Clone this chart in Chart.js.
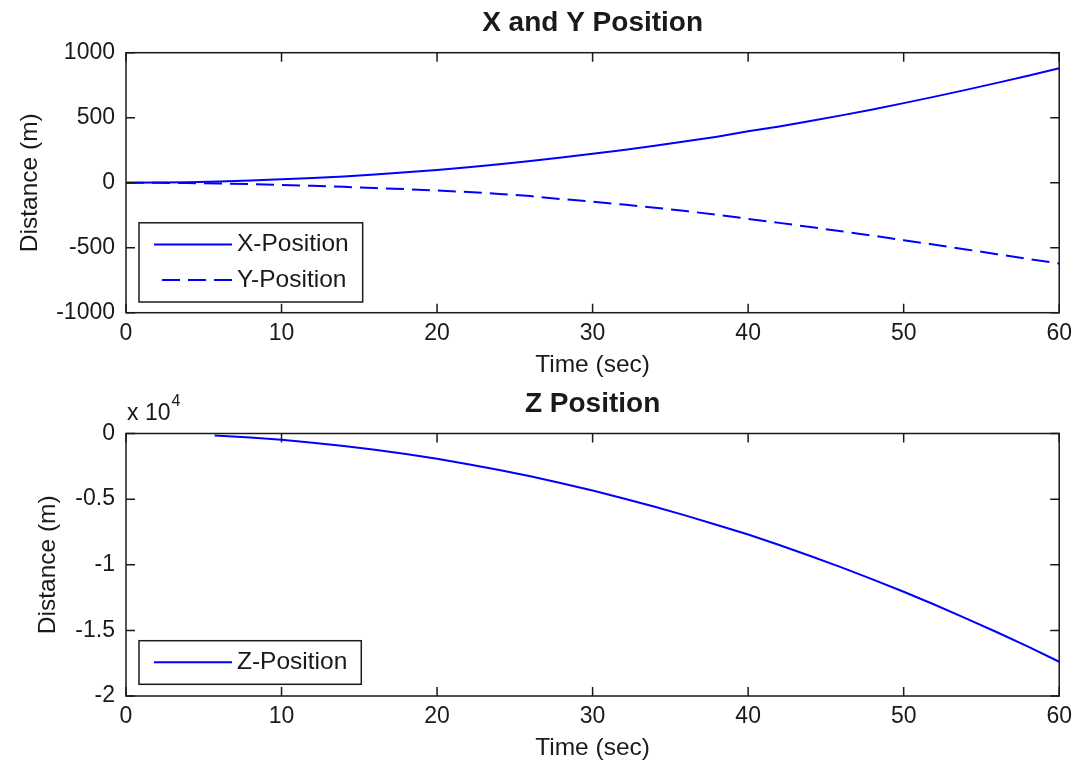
<!DOCTYPE html>
<html>
<head>
<meta charset="utf-8">
<script src="https://cdn.jsdelivr.net/npm/chart.js@4.4.0/dist/chart.umd.min.js"></script>
<style>
  html, body { margin: 0; padding: 0; background: #fff; }
  #wrap { position: relative; width: 1079px; height: 765px; }
  .pane { position: absolute; left: 0; width: 1079px; }
  #top { top: 0; height: 380px; }
  #bottom { top: 380px; height: 385px; }
</style>
</head>
<body>
<div id="wrap">
  <div class="pane" id="top"><canvas id="xyChart"></canvas></div>
  <div class="pane" id="bottom"><canvas id="zChart"></canvas></div>
</div>
<script>
// values
const times = [0, 2, 4, 6, 8, 10, 12, 14, 16, 18, 20, 22, 24, 26, 28, 30,
               32, 34, 36, 38, 40, 42, 44, 46, 48, 50, 52, 54, 56, 58, 60];
const xPos = [0, 1, 4, 9, 16, 26, 36, 48, 63, 80, 98, 119, 142, 167, 193, 222,
              252, 284, 318, 354, 395, 432, 474, 518, 563, 612, 662, 714, 768, 823, 880];
const yPos = [0, -1, -3, -6, -11, -17, -24, -32, -41, -50, -60, -72, -86, -103, -126, -146,
              -168, -192, -218, -247, -278, -309, -341, -374, -407, -442, -477, -513, -550, -586, -621];
const zTimes = [5.7, 8, 10, 12, 14, 16, 18, 20, 22, 24, 26, 28, 30, 32, 34,
                36, 38, 40, 42, 44, 46, 48, 50, 52, 54, 56, 58, 60];
const zPos = [-157, -309, -483, -696, -947, -1236, -1565, -1932, -2337, -2782, -3265, -3787, -4347, -4946, -5583,
              -6260, -6975, -7700, -8500, -9330, -10200, -11110, -12060, -13050, -14080, -15140, -16240, -17390];

const timeTicks = [0, 10, 20, 30, 40, 50, 60];
const xyTicks = [-1000, -500, 0, 500, 1000];
const zTicks = [-20000, -15000, -10000, -5000, 0];

const FONT = '"Liberation Sans", Arial, sans-serif';
const INK = '#1a1a1a';
const BLUE = '#0000ff';
const LABEL_SIZE = 24.5;

function pairs(ts, vs) {
  return ts.map((t, i) => ({ x: t, y: vs[i] }));
}

// matlab style box with inward ticks on all four sides
const matlabBox = {
  id: 'matlabBox',
  afterDatasetsDraw(chart) {
    const { ctx, chartArea: a, scales } = chart;
    const len = 9;
    ctx.save();
    ctx.strokeStyle = INK;
    ctx.lineWidth = 1.5;
    ctx.beginPath();
    scales.x.ticks.forEach(t => {
      const px = scales.x.getPixelForValue(t.value);
      ctx.moveTo(px, a.bottom); ctx.lineTo(px, a.bottom - len);
      ctx.moveTo(px, a.top); ctx.lineTo(px, a.top + len);
    });
    scales.y.ticks.forEach(t => {
      const py = scales.y.getPixelForValue(t.value);
      ctx.moveTo(a.left, py); ctx.lineTo(a.left + len, py);
      ctx.moveTo(a.right, py); ctx.lineTo(a.right - len, py);
    });
    ctx.stroke();
    ctx.strokeRect(a.left, a.top, a.right - a.left, a.bottom - a.top);
    ctx.restore();
  }
};

// legend drawn inside the axes, lower left, like matlab
const boxLegend = {
  id: 'boxLegend',
  afterDraw(chart, args, opts) {
    const { ctx, chartArea: a } = chart;
    const sets = chart.data.datasets;
    ctx.save();
    ctx.font = LABEL_SIZE + 'px ' + FONT;
    const textW = Math.max(...sets.map(d => ctx.measureText(d.label).width));
    const rowH = 35.6;
    const w = 98 + textW + 14;
    const h = 43.6 + (sets.length - 1) * rowH;
    const x0 = a.left + 13;
    const y0 = a.bottom - opts.bottomGap - h;
    ctx.fillStyle = '#fff';
    ctx.fillRect(x0, y0, w, h);
    ctx.strokeStyle = INK;
    ctx.lineWidth = 1.5;
    ctx.strokeRect(x0, y0, w, h);
    sets.forEach((d, i) => {
      const cy = y0 + 21.6 + i * rowH;
      ctx.strokeStyle = d.borderColor;
      ctx.lineWidth = d.borderWidth;
      ctx.setLineDash(d.borderDash || []);
      ctx.beginPath();
      ctx.moveTo(x0 + 93, cy);
      ctx.lineTo(x0 + (d.borderDash ? 22.5 : 15), cy);
      ctx.stroke();
      ctx.setLineDash([]);
      ctx.fillStyle = INK;
      ctx.textBaseline = 'middle';
      ctx.textAlign = 'left';
      ctx.fillText(d.label, x0 + 98, cy);
    });
    ctx.restore();
  }
};

// "x 10^4" exponent label over the z axis
const expLabel = {
  id: 'expLabel',
  afterDraw(chart) {
    const { ctx, chartArea: a } = chart;
    ctx.save();
    ctx.fillStyle = INK;
    ctx.textAlign = 'left';
    ctx.textBaseline = 'middle';
    ctx.font = '23px ' + FONT;
    ctx.fillText('x 10', a.left + 1, a.top - 20);
    const w = ctx.measureText('x 10').width;
    ctx.font = '16px ' + FONT;
    ctx.fillText('4', a.left + 2 + w, a.top - 32);
    ctx.restore();
  }
};

function makeOptions(cfg) {
  return {
    responsive: true,
    maintainAspectRatio: false,
    animation: false,
    layout: { padding: { left: 0, right: 18.5, top: 0, bottom: 0 } },
    elements: { point: { radius: 0 }, line: { tension: 0 } },
    plugins: {
      legend: { display: false },
      tooltip: { enabled: false },
      title: {
        display: true,
        fullSize: false,
        text: cfg.title,
        color: INK,
        font: { family: FONT, size: 28, weight: 'bold' },
        padding: { top: cfg.titleTop, bottom: cfg.titleBottom }
      },
      boxLegend: { bottomGap: cfg.legendGap }
    },
    scales: {
      x: {
        type: 'linear',
        min: 0, max: 60,
        afterBuildTicks: s => { s.ticks = timeTicks.map(v => ({ value: v })); },
        afterFit: s => { s.height = cfg.xHeight; },
        grid: { display: false, drawTicks: false },
        border: { display: false },
        ticks: { color: INK, font: { family: FONT, size: 23 }, padding: 7, maxRotation: 0, autoSkip: false },
        title: {
          display: true, text: 'Time (sec)', color: INK,
          font: { family: FONT, size: LABEL_SIZE },
          padding: { top: 0, bottom: cfg.xTitleBottom }
        }
      },
      y: {
        type: 'linear',
        min: cfg.yTicks[0], max: cfg.yTicks[cfg.yTicks.length - 1],
        afterBuildTicks: s => { s.ticks = cfg.yTicks.map(v => ({ value: v })); },
        afterFit: s => { s.width = 126; },
        grid: { display: false, drawTicks: false },
        border: { display: false },
        ticks: {
          color: INK, font: { family: FONT, size: 23 }, padding: 11, autoSkip: false,
          callback: v => String(v / cfg.yScale)
        },
        title: {
          display: true, text: 'Distance (m)', color: INK,
          font: { family: FONT, size: LABEL_SIZE },
          padding: { top: cfg.yTitleTop, bottom: 0 }
        }
      }
    }
  };
}

new Chart(document.getElementById('xyChart'), {
  type: 'line',
  data: {
    datasets: [
      { label: 'X-Position', data: pairs(times, xPos), borderColor: BLUE, borderWidth: 2, fill: false },
      { label: 'Y-Position', data: pairs(times, yPos), borderColor: BLUE, borderWidth: 2, borderDash: [18, 8], fill: false }
    ]
  },
  options: makeOptions({
    title: 'X and Y Position', titleTop: 6, titleBottom: 13.1, legendGap: 10.7,
    xHeight: 67.3, xTitleBottom: 0, yTicks: xyTicks, yScale: 1, yTitleTop: 15.3
  }),
  plugins: [matlabBox, boxLegend]
});

new Chart(document.getElementById('zChart'), {
  type: 'line',
  data: {
    datasets: [
      { label: 'Z-Position', data: pairs(zTimes, zPos), borderColor: BLUE, borderWidth: 2, fill: false }
    ]
  },
  options: makeOptions({
    title: 'Z Position', titleTop: 7, titleBottom: 12.9, legendGap: 11.7,
    xHeight: 69, xTitleBottom: 2.3, yTicks: zTicks, yScale: 10000, yTitleTop: 33.3
  }),
  plugins: [matlabBox, boxLegend, expLabel]
});
</script>
</body>
</html>
